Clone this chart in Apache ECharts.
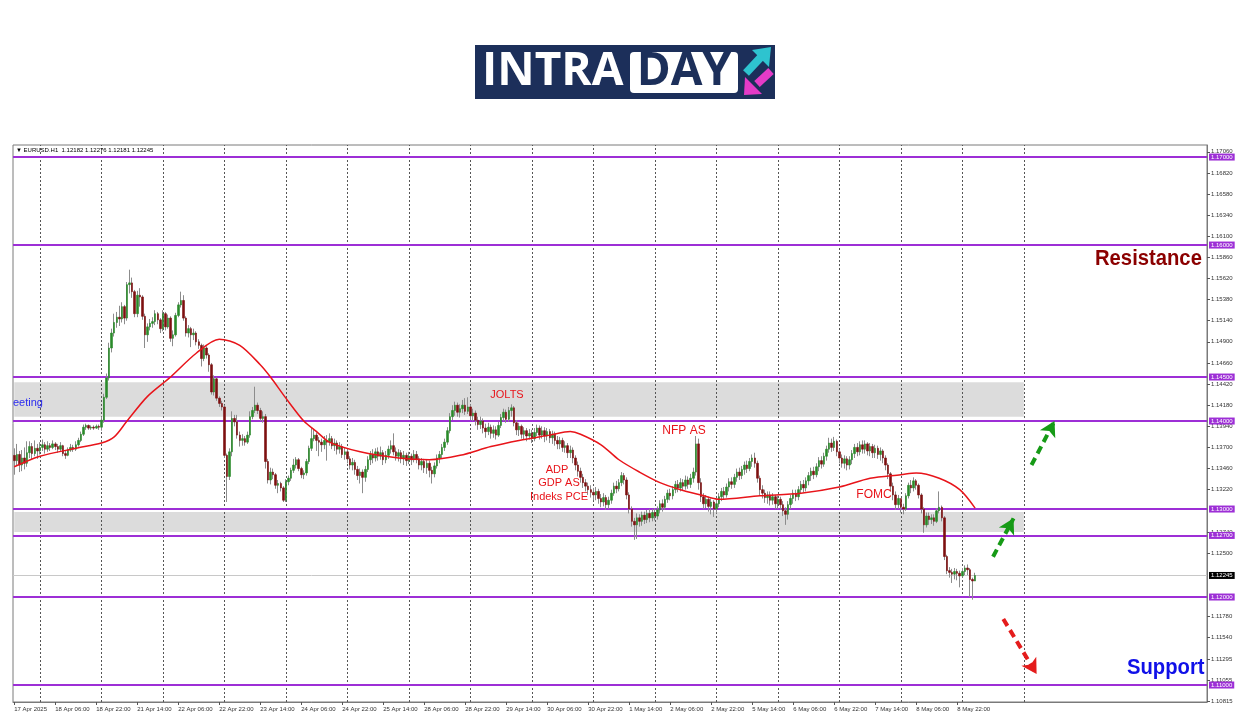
<!DOCTYPE html>
<html><head><meta charset="utf-8">
<script src="https://cdn.jsdelivr.net/npm/echarts@6/dist/echarts.min.js"></script>
<style>html,body{margin:0;padding:0;background:#fff}#c{width:1250px;height:716px}</style>
</head><body><div id="c"></div>
<script>
// ---------------- DATA ----------------
const firstOpen = 1.1361;
const closes = [
1.1355,1.1362,1.1350,1.1358,1.1352,1.1364,1.1371,1.1363,1.1369,1.1366,
1.1370,1.1373,1.1368,1.1372,1.1370,1.1374,1.1371,1.1368,1.1372,1.1363,
1.1361,1.1367,1.1370,1.1368,1.1373,1.1378,1.1385,1.1393,1.1395,1.1392,
1.1393,1.1392,1.1394,1.1393,1.1401,1.1427,1.1449,1.1483,1.1500,1.1512,
1.1518,1.1516,1.1530,1.1517,1.1555,1.1557,1.1547,1.1522,1.1543,1.1541,
1.1519,1.1498,1.1507,1.1511,1.1513,1.1522,1.1515,1.1505,1.1522,1.1507,
1.1517,1.1494,1.1498,1.1520,1.1532,1.1537,1.1517,1.1500,1.1505,1.1498,
1.1500,1.1490,1.1486,1.1471,1.1483,1.1475,1.1464,1.1433,1.1448,1.1426,
1.1420,1.1416,1.1361,1.1337,1.1365,1.1403,1.1399,1.1384,1.1378,1.1380,
1.1376,1.1384,1.1405,1.1412,1.1418,1.1412,1.1403,1.1405,1.1354,1.1333,
1.1342,1.1339,1.1327,1.1329,1.1324,1.1310,1.1331,1.1335,1.1344,1.1350,
1.1356,1.1346,1.1339,1.1341,1.1354,1.1369,1.1380,1.1384,1.1378,1.1376,
1.1373,1.1378,1.1376,1.1380,1.1372,1.1375,1.1368,1.1371,1.1362,1.1365,
1.1357,1.1350,1.1353,1.1345,1.1338,1.1342,1.1336,1.1345,1.1356,1.1362,
1.1358,1.1365,1.1360,1.1364,1.1356,1.1361,1.1368,1.1372,1.1365,1.1360,
1.1364,1.1357,1.1361,1.1355,1.1360,1.1356,1.1362,1.1357,1.1350,1.1354,
1.1347,1.1352,1.1344,1.1340,1.1349,1.1358,1.1362,1.1370,1.1376,1.1389,
1.1405,1.1412,1.1418,1.1410,1.1414,1.1418,1.1411,1.1416,1.1406,1.1409,
1.1401,1.1396,1.1400,1.1392,1.1388,1.1393,1.1386,1.1390,1.1384,1.1395,
1.1404,1.1410,1.1402,1.1412,1.1415,1.1398,1.1390,1.1394,1.1385,1.1389,
1.1383,1.1386,1.1380,1.1387,1.1392,1.1384,1.1389,1.1383,1.1388,1.1381,
1.1385,1.1378,1.1374,1.1378,1.1370,1.1372,1.1364,1.1367,1.1358,1.1350,
1.1343,1.1336,1.1330,1.1326,1.1322,1.1319,1.1316,1.1320,1.1312,1.1308,
1.1313,1.1305,1.1310,1.1318,1.1326,1.1323,1.1330,1.1338,1.1333,1.1316,
1.1300,1.1286,1.1282,1.1290,1.1286,1.1293,1.1288,1.1295,1.1290,1.1296,
1.1292,1.1299,1.1306,1.1302,1.1311,1.1318,1.1315,1.1322,1.1328,1.1324,
1.1330,1.1326,1.1333,1.1328,1.1335,1.1342,1.1374,1.1330,1.1314,1.1306,
1.1311,1.1303,1.1308,1.1300,1.1306,1.1314,1.1320,1.1316,1.1325,1.1331,
1.1328,1.1336,1.1342,1.1338,1.1345,1.1350,1.1346,1.1354,1.1358,1.1352,
1.1335,1.1322,1.1318,1.1313,1.1316,1.1310,1.1314,1.1306,1.1311,1.1305,
1.1298,1.1294,1.1305,1.1312,1.1318,1.1314,1.1322,1.1328,1.1324,1.1332,
1.1338,1.1343,1.1339,1.1348,1.1355,1.1351,1.1360,1.1368,1.1375,1.1370,
1.1377,1.1365,1.1358,1.1352,1.1357,1.1350,1.1356,1.1363,1.1370,1.1365,
1.1373,1.1368,1.1374,1.1366,1.1371,1.1364,1.1369,1.1362,1.1366,1.1358,
1.1350,1.1340,1.1326,1.1316,1.1305,1.1312,1.1302,1.1300,1.1315,1.1327,
1.1324,1.1332,1.1327,1.1316,1.1300,1.1282,1.1292,1.1288,1.1290,1.1286,
1.1298,1.1302,1.1290,1.1246,1.1230,1.1228,1.1226,1.1229,1.1227,1.1224,
1.1229,1.1233,1.1231,1.1220,1.12182,1.12245
];
const highs = [
1.1369,1.1374,1.1366,1.1367,1.1370,1.1377,1.1377,1.1375,1.1378,1.1374,
1.1376,1.1379,1.1376,1.1377,1.1375,1.1378,1.1376,1.1374,1.1376,1.1373,
1.1366,1.1370,1.1374,1.1373,1.1377,1.1381,1.1388,1.1396,1.1397,1.1396,
1.1395,1.1395,1.1396,1.1396,1.1405,1.1431,1.1454,1.1489,1.1505,1.1522,
1.1524,1.1531,1.1535,1.1532,1.1558,1.1572,1.1563,1.1549,1.1548,1.1551,
1.1543,1.1522,1.1511,1.1516,1.1518,1.1526,1.1524,1.1517,1.1526,1.1524,
1.1521,1.1519,1.1503,1.1523,1.1535,1.1547,1.1543,1.1519,1.1509,1.1507,
1.1505,1.1502,1.1493,1.1488,1.1487,1.1485,1.1477,1.1466,1.1452,1.1450,
1.1428,1.1423,1.1418,1.1363,1.1369,1.1411,1.1407,1.1407,1.1388,1.1385,
1.1383,1.1388,1.1411,1.1416,1.1439,1.1421,1.1415,1.1411,1.1408,1.1357,
1.1347,1.1346,1.1341,1.1333,1.1331,1.1326,1.1334,1.1338,1.1347,1.1357,
1.1359,1.1358,1.1348,1.1344,1.1357,1.1372,1.1392,1.1390,1.1387,1.1382,
1.1380,1.1383,1.1384,1.1386,1.1383,1.1380,1.1378,1.1376,1.1374,1.1370,
1.1368,1.1360,1.1358,1.1356,1.1349,1.1346,1.1345,1.1349,1.1360,1.1366,
1.1368,1.1369,1.1370,1.1371,1.1367,1.1366,1.1372,1.1378,1.1386,1.1370,
1.1368,1.1367,1.1366,1.1364,1.1365,1.1363,1.1367,1.1366,1.1360,1.1358,
1.1357,1.1356,1.1355,1.1348,1.1353,1.1362,1.1366,1.1374,1.1380,1.1393,
1.1409,1.1418,1.1422,1.1421,1.1419,1.1424,1.1426,1.1427,1.1419,1.1414,
1.1412,1.1405,1.1405,1.1403,1.1397,1.1398,1.1396,1.1395,1.1394,1.1399,
1.1408,1.1414,1.1413,1.1416,1.1419,1.1417,1.1401,1.1398,1.1396,1.1393,
1.1392,1.1391,1.1390,1.1392,1.1396,1.1395,1.1394,1.1393,1.1392,1.1391,
1.1389,1.1388,1.1383,1.1382,1.1381,1.1377,1.1375,1.1372,1.1370,1.1361,
1.1354,1.1347,1.1340,1.1334,1.1330,1.1327,1.1324,1.1325,1.1323,1.1317,
1.1318,1.1316,1.1314,1.1322,1.1330,1.1332,1.1334,1.1342,1.1341,1.1336,
1.1319,1.1303,1.1290,1.1295,1.1294,1.1297,1.1297,1.1299,1.1300,1.1300,
1.1301,1.1303,1.1310,1.1311,1.1315,1.1322,1.1323,1.1326,1.1332,1.1333,
1.1335,1.1334,1.1338,1.1337,1.1340,1.1347,1.1383,1.1380,1.1335,1.1318,
1.1316,1.1314,1.1312,1.1310,1.1310,1.1318,1.1324,1.1325,1.1329,1.1335,
1.1336,1.1340,1.1346,1.1347,1.1349,1.1354,1.1355,1.1358,1.1362,1.1364,
1.1355,1.1338,1.1327,1.1322,1.1320,1.1320,1.1318,1.1316,1.1315,1.1314,
1.1309,1.1302,1.1309,1.1316,1.1322,1.1322,1.1326,1.1332,1.1333,1.1336,
1.1342,1.1347,1.1348,1.1352,1.1359,1.1360,1.1364,1.1372,1.1381,1.1380,
1.1382,1.1379,1.1368,1.1362,1.1361,1.1360,1.1360,1.1367,1.1374,1.1375,
1.1377,1.1378,1.1378,1.1376,1.1375,1.1374,1.1373,1.1372,1.1370,1.1368,
1.1361,1.1352,1.1342,1.1330,1.1320,1.1316,1.1308,1.1306,1.1318,1.1330,
1.1333,1.1336,1.1334,1.1329,1.1318,1.1302,1.1296,1.1296,1.1294,1.1294,
1.1301,1.1320,1.1304,1.1292,1.1248,1.1234,1.1232,1.1233,1.1232,1.1230,
1.1233,1.1236,1.1237,1.1233,1.1222,1.12276
];
const lows = [
1.1339,1.1350,1.1342,1.1343,1.1345,1.1348,1.1358,1.1356,1.1360,1.1357,
1.1362,1.1366,1.1363,1.1365,1.1366,1.1368,1.1367,1.1364,1.1366,1.1360,
1.1357,1.1360,1.1365,1.1365,1.1366,1.1371,1.1376,1.1383,1.1390,1.1390,
1.1390,1.1390,1.1391,1.1390,1.1389,1.1398,1.1425,1.1446,1.1478,1.1496,
1.1506,1.1508,1.1512,1.1510,1.1514,1.1545,1.1540,1.1518,1.1518,1.1530,
1.1515,1.1483,1.1490,1.1503,1.1506,1.1509,1.1510,1.1500,1.1502,1.1503,
1.1505,1.1490,1.1485,1.1496,1.1518,1.1529,1.1514,1.1496,1.1495,1.1484,
1.1492,1.1486,1.1482,1.1462,1.1468,1.1471,1.1456,1.1430,1.1429,1.1423,
1.1416,1.1412,1.1358,1.1308,1.1333,1.1360,1.1394,1.1380,1.1371,1.1372,
1.1372,1.1374,1.1381,1.1402,1.1409,1.1408,1.1400,1.1398,1.1346,1.1329,
1.1328,1.1334,1.1323,1.1318,1.1320,1.1308,1.1308,1.1327,1.1332,1.1341,
1.1346,1.1343,1.1335,1.1334,1.1338,1.1351,1.1366,1.1377,1.1366,1.1360,
1.1365,1.1368,1.1355,1.1372,1.1368,1.1366,1.1362,1.1363,1.1358,1.1356,
1.1352,1.1345,1.1344,1.1339,1.1333,1.1329,1.1318,1.1331,1.1342,1.1350,
1.1352,1.1354,1.1355,1.1356,1.1350,1.1352,1.1357,1.1363,1.1361,1.1355,
1.1354,1.1352,1.1350,1.1349,1.1351,1.1350,1.1353,1.1352,1.1345,1.1344,
1.1341,1.1340,1.1336,1.1329,1.1336,1.1346,1.1352,1.1358,1.1366,1.1373,
1.1386,1.1401,1.1406,1.1405,1.1404,1.1409,1.1407,1.1408,1.1401,1.1400,
1.1395,1.1390,1.1391,1.1386,1.1381,1.1384,1.1380,1.1381,1.1379,1.1382,
1.1392,1.1400,1.1398,1.1399,1.1405,1.1394,1.1384,1.1383,1.1380,1.1379,
1.1377,1.1379,1.1375,1.1377,1.1383,1.1379,1.1380,1.1376,1.1378,1.1375,
1.1374,1.1372,1.1368,1.1368,1.1365,1.1364,1.1358,1.1358,1.1352,1.1344,
1.1337,1.1330,1.1324,1.1320,1.1316,1.1313,1.1310,1.1310,1.1306,1.1302,
1.1303,1.1299,1.1300,1.1306,1.1315,1.1318,1.1320,1.1326,1.1328,1.1311,
1.1295,1.1280,1.1265,1.1266,1.1280,1.1281,1.1283,1.1284,1.1285,1.1286,
1.1287,1.1288,1.1295,1.1297,1.1299,1.1307,1.1310,1.1311,1.1318,1.1319,
1.1320,1.1321,1.1322,1.1323,1.1324,1.1330,1.1338,1.1322,1.1308,1.1300,
1.1301,1.1297,1.1294,1.1291,1.1295,1.1302,1.1309,1.1311,1.1313,1.1320,
1.1323,1.1324,1.1331,1.1333,1.1334,1.1339,1.1341,1.1343,1.1348,1.1347,
1.1330,1.1316,1.1312,1.1307,1.1306,1.1304,1.1305,1.1300,1.1300,1.1299,
1.1292,1.1282,1.1288,1.1300,1.1306,1.1309,1.1310,1.1317,1.1319,1.1320,
1.1327,1.1332,1.1334,1.1336,1.1343,1.1346,1.1348,1.1355,1.1364,1.1365,
1.1366,1.1360,1.1352,1.1347,1.1346,1.1344,1.1345,1.1351,1.1358,1.1360,
1.1361,1.1363,1.1363,1.1361,1.1360,1.1358,1.1358,1.1357,1.1355,1.1352,
1.1344,1.1334,1.1320,1.1310,1.1299,1.1300,1.1296,1.1294,1.1298,1.1312,
1.1318,1.1320,1.1322,1.1312,1.1295,1.1273,1.1279,1.1282,1.1283,1.1281,
1.1284,1.1295,1.1286,1.1242,1.1226,1.1222,1.1216,1.1220,1.1219,1.1211,
1.1222,1.1225,1.1225,1.1200,1.1197,1.12181
];
// moving average: [bar index, value]
const maPoints = [
[0,1.1348],[10,1.1360],[24,1.1369],[34,1.1375],[39,1.1382],[44,1.1400],[52,1.1428],
[61,1.1450],[71,1.1477],[80,1.1493],[88,1.1486],[96,1.1464],[100,1.1450],[106,1.1426],
[113,1.1400],[118,1.1388],[123,1.1376],[135,1.1365],[150,1.1358],[162,1.1356],
[174,1.1361],[186,1.1371],[197,1.1378],[209,1.1384],[217,1.1388],[221,1.1385],
[229,1.1373],[236,1.1356],[244,1.1342],[252,1.1330],[260,1.1322],[268,1.1316],
[275,1.1311],[291,1.1315],[307,1.1318],[322,1.1325],[334,1.1335],[346,1.1339],
[352,1.1341],[361,1.1335],[369,1.1322],[375,1.1301]
];
const yTicks = [1.17060,1.16820,1.16580,1.16340,1.16100,1.15860,1.15620,1.15380,1.15140,
1.14900,1.14660,1.14420,1.14180,1.13940,1.13700,1.13460,1.13220,1.12740,1.12500,
1.11780,1.11540,1.11295,1.11055,1.10815];
const levels = [1.17,1.16,1.145,1.14,1.13,1.127,1.12,1.11];
const zones = [[1.1444,1.1405],[1.12966,1.1274]];
const currentPrice = 1.12245;
const headerText = '\u25BC EURUSD.H1  1.12182 1.12276 1.12181 1.12245';
const greenArrows = [[[382,1.12458],[390,1.12894]],[[397,1.1350],[406,1.1400]]];
const redArrows = [[[386,1.1175],[399,1.11125]]];
const zoneEndBar = 394;
const totalBars = 466;

// --------------- BUILD ---------------
const MON = ['Jan','Feb','Mar','Apr','May','Jun','Jul','Aug','Sep','Oct','Nov','Dec'];
const cats = [], isMidnight = [];
let t = Date.UTC(2025,3,17,14);
while (cats.length < totalBars) {
  const d = new Date(t), wd = d.getUTCDay();
  if (wd !== 0 && wd !== 6) {
    const hh = String(d.getUTCHours()).padStart(2,'0');
    cats.push(d.getUTCDate()+' '+MON[d.getUTCMonth()]+' '+hh+':00');
    isMidnight.push(d.getUTCHours() === 0);
  }
  t += 3600e3;
}
const n = closes.length;
const opens = closes.map((c,i)=> i===0 ? firstOpen : closes[i-1]);
const fullData = closes.map((c,i)=>[opens[i], c, lows[i], highs[i]]);
const bodyData = closes.map((c,i)=>[opens[i], c, Math.min(opens[i],c), Math.max(opens[i],c)]);
const dayLines = [];
isMidnight.forEach((m,i)=>{ if (m && i <= zoneEndBar) dayLines.push({xAxis:i}); });

const PURPLE = '#9d2fd6';
const LBL = {fontSize:6,fontFamily:'Liberation Sans'};
const txt = (x,y,text,fill,font,extra)=>Object.assign({type:'text',x:x,y:y,z:100,
  style:Object.assign({text:text,fill:fill,font:font,textVerticalAlign:'middle'},extra||{})});
const chart = echarts.init(document.getElementById('c'), null, {renderer:'canvas'});
chart.setOption({
  animation:false,
  backgroundColor:'#ffffff',
  grid:{left:13,right:43,top:145,bottom:14,show:true,borderColor:'#7a7a7a',borderWidth:1},
  xAxis:{type:'category',data:cats,boundaryGap:true,
    axisLine:{show:true,lineStyle:{color:'#7a7a7a'}},
    axisTick:{show:true,length:3,alignWithLabel:true,lineStyle:{color:'#555'},
      interval:(i)=> i%16===0 && i<n},
    axisLabel:Object.assign({interval:(i)=> i%16===0 && i<n,color:'#333',margin:4,align:'left',
      formatter:(v,i)=> i===0 ? '17 Apr 2025' : v},LBL),
    splitLine:{show:false}},
  yAxis:{type:'value',position:'right',min:1.10807,max:1.17137,scale:true,
    splitLine:{show:false},
    axisLine:{show:true,lineStyle:{color:'#7a7a7a'}},
    axisTick:{show:true,length:3,customValues:yTicks,lineStyle:{color:'#555'}},
    axisLabel:Object.assign({customValues:yTicks,formatter:(v)=>v.toFixed(5),color:'#333',margin:4},LBL)},
  series:[
    {type:'line',data:[],z:1,silent:true,
      markArea:{silent:true,itemStyle:{color:'#dcdcdc'},
        data: zones.map(z=>[{xAxis:0,yAxis:z[0]},{xAxis:zoneEndBar,yAxis:z[1]}])}},
    {type:'line',data:[],z:2,silent:true,
      markLine:{silent:true,symbol:['none','none'],label:{show:false},precision:5,
        lineStyle:{color:'#555',width:1,type:[2,2]},data:dayLines}},
    {type:'line',data:[],z:3,silent:true,
      markLine:{silent:true,symbol:['none','none'],precision:5,
        lineStyle:{color:'#c8c8c8',width:1,type:'solid'},
        label:Object.assign({show:true,position:'end',distance:2,formatter:()=>currentPrice.toFixed(5),
          color:'#fff',backgroundColor:'#000',padding:[1,2,0,2]},LBL),
        data:[{yAxis:currentPrice}]}},
    {type:'line',data:[],z:4,silent:true,
      markLine:{silent:true,symbol:['none','none'],precision:5,
        lineStyle:{color:PURPLE,width:2,type:'solid'},
        label:Object.assign({show:true,position:'end',distance:2,formatter:(p)=>Number(p.value).toFixed(5),
          color:'#fff',backgroundColor:PURPLE,padding:[1,2,0,2]},LBL),
        data:levels.map(v=>({yAxis:v}))}},
    {type:'candlestick',data:fullData,z:5,silent:true,barWidth:1,
      itemStyle:{color:'#8c8c8c',color0:'#8c8c8c',borderColor:'#8c8c8c',borderColor0:'#8c8c8c',borderWidth:1}},
    {type:'candlestick',data:bodyData,z:6,silent:true,barWidth:2,
      itemStyle:{color:'#2a8a2a',color0:'#7d1010',borderColor:'#2a8a2a',borderColor0:'#7d1010',borderWidth:0.6}},
    {type:'line',data:maPoints,z:7,silent:true,smooth:0.3,showSymbol:false,
      lineStyle:{color:'#e8141a',width:1.5}},
    {type:'line',data:[],z:8,silent:true,
      markLine:{silent:true,symbol:['none','arrow'],symbolSize:[13,15],label:{show:false},precision:5,
        lineStyle:{color:'#169a16',width:4,type:[8,5]},
        data: greenArrows.map(a=>[{coord:a[0]},{coord:a[1]}])}},
    {type:'line',data:[],z:8,silent:true,
      markLine:{silent:true,symbol:['none','arrow'],symbolSize:[13,15],label:{show:false},precision:5,
        lineStyle:{color:'#e41c1c',width:4,type:[8,5]},
        data: redArrows.map(a=>[{coord:a[0]},{coord:a[1]}])}}
  ],
  graphic:[
    {type:'rect',z:100,shape:{x:475,y:45,width:300,height:54},style:{fill:'#1c2f5a'}},
    txt(482,72,'INTRA','#ffffff','bold 46px "Open Sans"'),
    {type:'rect',z:100,shape:{x:630,y:52,width:108,height:41,r:4},style:{fill:'#ffffff'}},
    txt(684,72,'DAY','#1c2f5a','bold 46px "Open Sans"',{textAlign:'center'}),
    {type:'line',z:100,shape:{x1:746,y1:73,x2:761,y2:57},style:{stroke:'#2ec3cf',lineWidth:8}},
    {type:'polygon',z:100,shape:{points:[[752,50],[771,47],[769,67]]},style:{fill:'#2ec3cf'}},
    {type:'line',z:100,shape:{x1:771,y1:71,x2:757,y2:84},style:{stroke:'#e43bc7',lineWidth:8}},
    {type:'polygon',z:100,shape:{points:[[745,77],[744,95],[762,94]]},style:{fill:'#e43bc7'}},
    txt(16,150,headerText,'#000','6px "Liberation Sans"'),
    Object.assign(txt(1095,259,'Resistance','#8b0000','bold 22px "Liberation Sans"'),{scaleX:0.92}),
    Object.assign(txt(1127,668,'Support','#1010e8','bold 22px "Liberation Sans"'),{scaleX:0.92}),
    txt(507,395,'JOLTS','#e8141a','11px "Liberation Sans"',{textAlign:'center'}),
    txt(684,431,'NFP AS','#e8141a','12px "Liberation Sans"',{textAlign:'center'}),
    txt(557,470,'ADP','#e8141a','11px "Liberation Sans"',{textAlign:'center'}),
    txt(559,483,'GDP AS','#e8141a','11px "Liberation Sans"',{textAlign:'center'}),
    txt(559,497,'Indeks PCE','#e8141a','11px "Liberation Sans"',{textAlign:'center'}),
    txt(874,495,'FOMC','#e8141a','12px "Liberation Sans"',{textAlign:'center'}),
    txt(13,403,'eeting','#2a2af0','11px "Liberation Sans"')
  ]
});
</script></body></html>
